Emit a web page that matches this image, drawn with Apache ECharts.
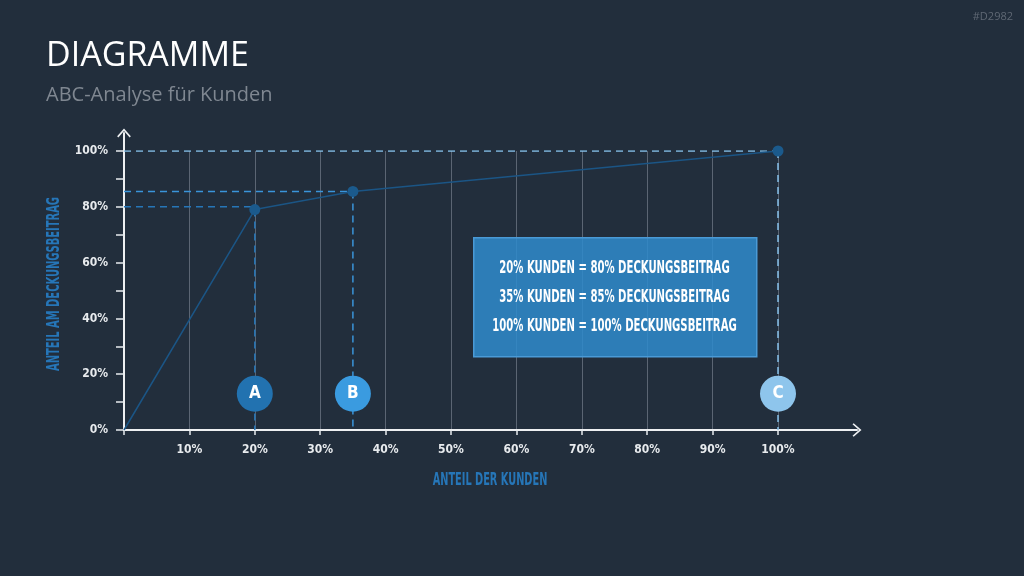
<!DOCTYPE html>
<html>
<head>
<meta charset="utf-8">
<script src="https://cdn.jsdelivr.net/npm/echarts@6/dist/echarts.min.js"></script>
<style>
  html, body { margin: 0; padding: 0; background: #222e3c; }
  #main { width: 1024px; height: 576px; }
</style>
</head>
<body>
<div id="main"></div>
<script>
// ABC curve: share of customers (x, %) vs share of contribution margin (y, %)
const curvePoints = [[0, 0], [20, 79], [35, 85.5], [100, 100]];
const classLetters = ["A", "B", "C"];
const classX = [20, 35, 100];
const classY = 13;
const classColors = ["#2272b0", "#3a9be0", "#8ec5ec"];
const guideLevels = [80, 85.5, 100];
const guideColors = ["#2676b8", "#3a95da", "#86c1ea"];
const infoLines = [
  "20% KUNDEN = 80% DECKUNGSBEITRAG",
  "35% KUNDEN = 85% DECKUNGSBEITRAG",
  "100% KUNDEN = 100% DECKUNGSBEITRAG"
];
const xName = "ANTEIL DER KUNDEN";
const yName = "ANTEIL AM DECKUNGSBEITRAG";

const condensed = "'DejaVu Sans Condensed', 'Liberation Sans Narrow', sans-serif";

document.addEventListener("DOMContentLoaded", function () {
  const myChart = echarts.init(document.getElementById("main"));

  // dashed guide lines: horizontal from y axis to the point, vertical down to x axis
  const guideSeries = [];
  classX.forEach(function (x, i) {
    const pointY = curvePoints.find(function (p) { return p[0] === x; })[1];
    const style = { color: guideColors[i], width: 1.5, type: [7, 5] };
    guideSeries.push({
      type: "line", xAxisIndex: 0, yAxisIndex: 0, symbol: "none", z: 2,
      data: [[0, guideLevels[i]], [x, guideLevels[i]]], lineStyle: style, silent: true
    });
    guideSeries.push({
      type: "line", xAxisIndex: 0, yAxisIndex: 0, symbol: "none", z: 2,
      data: [[x, pointY], [x, 0]], lineStyle: style, silent: true
    });
  });

  const arrow = "path://M0,8 L7,0 L14,8 L12.8,9.2 L7,2.6 L1.2,9.2 Z";
  const labelStyle = { color: "#e8ebee", fontSize: 12, fontWeight: "bold", fontFamily: condensed };

  const option = {
    backgroundColor: "#222e3c",
    animation: false,
    title: [
      {
        text: "DIAGRAMME", left: 41, top: 34,
        textStyle: { color: "#ffffff", fontSize: 34, fontWeight: "normal", fontFamily: "'Open Sans', sans-serif" }
      },
      {
        text: "ABC-Analyse für Kunden", left: 41, top: 80,
        textStyle: { color: "#7f8791", fontSize: 20, fontWeight: "normal", fontFamily: "'Open Sans', sans-serif" }
      },
      {
        text: "#D2982", right: 6, top: 6,
        textStyle: { color: "#5f6874", fontSize: 11, fontWeight: "normal", fontFamily: "'Open Sans', sans-serif" }
      }
    ],
    grid: [
      { left: 124, right: 246, top: 151, bottom: 146 },
      { left: 124, right: 167, top: 133, bottom: 146 }
    ],
    xAxis: [
      {
        type: "value", gridIndex: 0, min: 0, max: 100, interval: 10,
        axisLine: { show: false },
        axisTick: { show: true, length: 5, lineStyle: { color: "#e8ebee", width: 1.5 } },
        splitLine: { show: true, lineStyle: { color: "#5b6573", width: 1 } },
        axisLabel: Object.assign({
          margin: 14,
          formatter: function (v) { return v === 0 ? "" : v + "%"; }
        }, labelStyle)
      },
      {
        type: "value", gridIndex: 1, min: 0, max: 100,
        axisLine: { show: true, symbol: ["none", arrow], symbolSize: [14, 9], lineStyle: { color: "#eef0f2", width: 2 } },
        axisTick: { show: false }, axisLabel: { show: false }, splitLine: { show: false }
      }
    ],
    yAxis: [
      {
        type: "value", gridIndex: 0, min: 0, max: 100, interval: 10,
        axisLine: { show: false },
        axisTick: { show: true, length: 8, lineStyle: { color: "#e8ebee", width: 1.5 } },
        splitLine: { show: false },
        axisLabel: Object.assign({
          margin: 16,
          formatter: function (v) { return v % 20 === 0 ? v + "%" : ""; }
        }, labelStyle)
      },
      {
        type: "value", gridIndex: 1, min: 0, max: 100,
        axisLine: { show: true, symbol: ["none", arrow], symbolSize: [14, 9], lineStyle: { color: "#eef0f2", width: 2 } },
        axisTick: { show: false }, axisLabel: { show: false }, splitLine: { show: false }
      }
    ],
    series: guideSeries.concat([
      {
        type: "line", xAxisIndex: 0, yAxisIndex: 0, z: 3,
        data: curvePoints,
        lineStyle: { color: "#1b5585", width: 1.5 },
        itemStyle: { color: "#1b5a8c" },
        symbol: "circle",
        symbolSize: function (val, params) { return params.dataIndex === 0 ? 0 : 11; },
        silent: true
      },
      {
        type: "scatter", xAxisIndex: 0, yAxisIndex: 0, z: 4,
        symbolSize: 36,
        data: classX.map(function (x, i) {
          return {
            value: [x, classY], name: classLetters[i],
            itemStyle: { color: classColors[i], opacity: 1 }
          };
        }),
        label: {
          show: true, position: "inside", formatter: "{b}",
          color: "#ffffff", fontSize: 17, fontWeight: "bold", fontFamily: condensed
        },
        silent: true
      }
    ]),
    graphic: [
      {
        type: "rect", left: 473, top: 237, z: 10,
        shape: { width: 283, height: 119 },
        style: { fill: "rgba(47,139,205,0.85)", stroke: "#4a9ad6", lineWidth: 1.5 }
      },
      {
        type: "text", x: 614.5, y: 254, z: 11, scaleX: 0.66,
        style: {
          text: infoLines.join("\n"), align: "center", verticalAlign: "top",
          fill: "#ffffff", fontSize: 17, fontWeight: "bold", fontFamily: condensed, lineHeight: 29
        }
      },
      {
        type: "text", x: 490, y: 481, z: 11, scaleX: 0.64,
        style: {
          text: xName, align: "center", verticalAlign: "middle",
          fill: "#2676b8", fontSize: 17, fontWeight: "bold", fontFamily: condensed
        }
      },
      {
        type: "text", x: 55, y: 284, z: 11, scaleX: 0.65, rotation: Math.PI / 2,
        style: {
          text: yName, align: "center", verticalAlign: "middle",
          fill: "#2676b8", fontSize: 17, fontWeight: "bold", fontFamily: condensed
        }
      }
    ]
  };

  myChart.setOption(option);
});
</script>
</body>
</html>
